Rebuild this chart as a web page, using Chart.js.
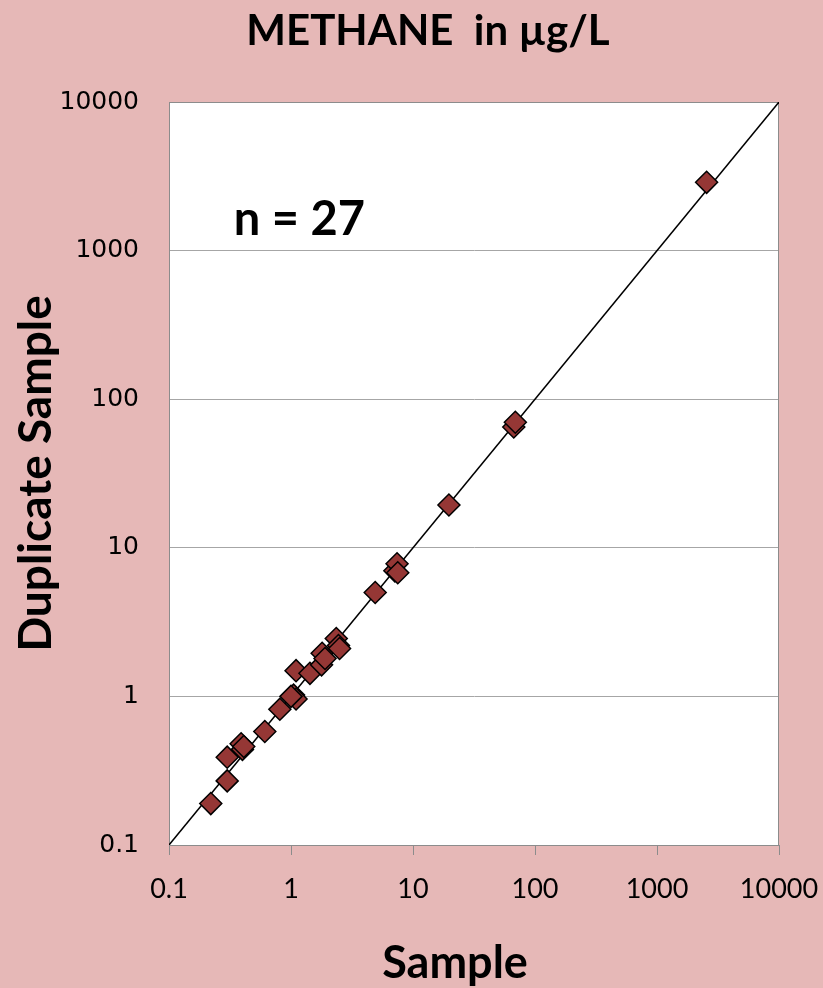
<!DOCTYPE html>
<html>
<head>
<meta charset="utf-8">
<script src="https://cdn.jsdelivr.net/npm/chart.js@4"></script>
<style>
  html, body { margin: 0; padding: 0; background: #e6b8b7; }
  #wrap { width: 823px; height: 988px; position: relative; }
</style>
</head>
<body>
<div id="wrap"><canvas id="methaneChart"></canvas></div>
<script>
// Methane duplicate check, µg/L
const sampleValues    = [0.22, 0.30, 0.30, 0.39, 0.40, 0.41, 0.61, 0.81, 1.05, 1.10, 1.00, 1.10, 1.43,
                         1.78, 1.80, 1.90, 2.35, 2.45, 2.50, 4.90, 7.10, 7.40, 7.50, 19.7, 67, 69, 2550];
const duplicateValues = [0.19, 0.27, 0.39, 0.48, 0.44, 0.46, 0.58, 0.82, 1.02, 0.96, 1.00, 1.49, 1.43,
                         1.63, 1.95, 1.80, 2.45, 2.20, 2.10, 5.00, 7.00, 7.80, 6.80, 19.4, 65, 70, 2880];
const lineEnds  = [0.1, 10000];                       // 1:1 reference line
const tickValues = [0.1, 1, 10, 100, 1000, 10000];

const titleText = 'METHANE  in \u00B5g/L';
const countText = 'n = 27';
const countAt   = { x: 0.34, y: 1600 };

const titleFont = '"Lato", "Open Sans", sans-serif';

const points = sampleValues.map((v, i) => ({ x: v, y: duplicateValues[i] }));

// white plot area, frame, and free-standing texts
const decor = {
  id: 'decor',
  beforeDraw(chart) {
    const { ctx, chartArea: a } = chart;
    ctx.save();
    ctx.fillStyle = '#ffffff';
    ctx.fillRect(a.left, a.top, a.width, a.height);
    ctx.restore();
  },
  beforeDatasetsDraw(chart) {
    const { ctx, chartArea: a } = chart;
    ctx.save();
    ctx.strokeStyle = '#8c8c8c';
    ctx.lineWidth = 1;
    ctx.strokeRect(a.left + 0.5, a.top + 0.5, a.width - 1, a.height);
    ctx.restore();
  },
  afterDraw(chart) {
    const { ctx, scales } = chart;
    ctx.save();
    ctx.fillStyle = '#000';
    ctx.textBaseline = 'middle';

    ctx.font = 'bold 42px ' + titleFont;
    ctx.textAlign = 'center';
    ctx.fillText(titleText, 428, 31);

    ctx.font = 'bold 45px ' + titleFont;
    ctx.fillText('Sample', 455, 963);

    ctx.font = 'bold 47px ' + titleFont;
    ctx.textAlign = 'left';
    ctx.fillText(countText, scales.x.getPixelForValue(countAt.x), scales.y.getPixelForValue(countAt.y));
    ctx.restore();
  }
};

const decadeTicks = (scale) => { scale.ticks = tickValues.map(v => ({ value: v })); };

new Chart(document.getElementById('methaneChart'), {
  type: 'scatter',
  data: {
    datasets: [
      {
        label: 'Samples',
        data: points,
        pointStyle: 'rectRot',
        pointRadius: 11,
        pointHoverRadius: 11,
        backgroundColor: '#953735',
        borderColor: '#000000',
        borderWidth: 1.5,
        order: 1,
      },
      {
        label: '1:1',
        data: lineEnds.map(v => ({ x: v, y: v })),
        showLine: true,
        pointRadius: 0,
        borderColor: '#000000',
        borderWidth: 1.5,
        order: 2,
      },
    ],
  },
  options: {
    responsive: true,
    maintainAspectRatio: false,
    animation: false,
    layout: { padding: { top: 102, right: 44, bottom: 0, left: 0 } },
    plugins: {
      legend: { display: false },
      tooltip: { enabled: false },
    },
    scales: {
      x: {
        type: 'logarithmic',
        min: 0.1,
        max: 10000,
        afterBuildTicks: decadeTicks,
        afterFit: (s) => { s.height = 143; s.paddingLeft = 0; s.paddingRight = 0; },
        grid: { drawOnChartArea: false, drawTicks: true, tickLength: 10, color: '#8c8c8c' },
        border: { color: '#8c8c8c' },
        ticks: {
          autoSkip: false,
          maxRotation: 0,
          padding: 18,
          color: '#000',
          font: { family: '"Liberation Sans Narrow", "Lato", sans-serif', size: 27 },
          callback: (v) => String(v),
        },
      },
      y: {
        type: 'logarithmic',
        min: 0.1,
        max: 10000,
        afterBuildTicks: decadeTicks,
        afterFit: (s) => { s.width = 169; s.paddingTop = 0; s.paddingBottom = 0; },
        grid: { drawTicks: false, color: '#a6a6a6' },
        border: { color: '#8c8c8c' },
        ticks: {
          padding: 30,
          color: '#000',
          font: { family: '"DejaVu Sans", Verdana, sans-serif', size: 25 },
          callback: (v) => String(v),
        },
        title: {
          display: true,
          text: 'Duplicate Sample',
          color: '#000',
          font: { family: titleFont, size: 46, weight: 'bold' },
          padding: { top: 9, bottom: 0 },
        },
      },
    },
  },
  plugins: [decor],
});
</script>
</body>
</html>
